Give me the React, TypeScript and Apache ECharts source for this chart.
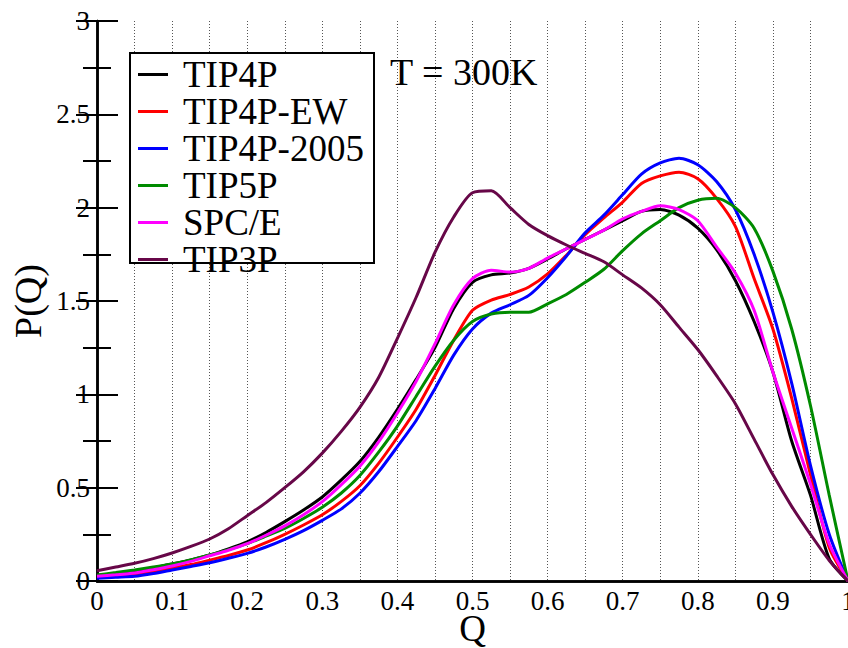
import React, { useEffect, useRef } from "react";
import * as echarts from "echarts";

const qValues = [
  0, 0.025, 0.05, 0.075, 0.1, 0.125, 0.15, 0.175, 0.2, 0.225, 0.25, 0.275, 0.3, 0.325, 0.35, 0.375, 0.4,
  0.425, 0.45, 0.475, 0.5, 0.525, 0.55, 0.575, 0.6, 0.625, 0.65, 0.675, 0.7, 0.725, 0.75, 0.775, 0.8,
  0.825, 0.85, 0.875, 0.9, 0.925, 0.95, 0.975, 1,
];

const tip4p = [
  0.03, 0.04, 0.052, 0.07, 0.091, 0.113, 0.139, 0.172, 0.21, 0.26, 0.318, 0.38, 0.45, 0.54, 0.64, 0.77, 0.92,
  1.08, 1.25, 1.46, 1.6, 1.64, 1.65, 1.675, 1.725, 1.78, 1.83, 1.88, 1.93, 1.98, 1.99, 1.96, 1.89,
  1.775, 1.61, 1.39, 1.12, 0.75, 0.46, 0.12, 0,
];

const tip4pEw = [
  0.02, 0.025, 0.035, 0.05, 0.068, 0.088, 0.112, 0.137, 0.166, 0.205, 0.25, 0.3, 0.355, 0.425, 0.51, 0.63, 0.77,
  0.92, 1.1, 1.29, 1.45, 1.505, 1.535, 1.575, 1.645, 1.745, 1.855, 1.945, 2.03, 2.13, 2.17, 2.19, 2.155,
  2.05, 1.9, 1.62, 1.35, 0.98, 0.57, 0.18, 0,
];

const tip4p2005 = [
  0.015, 0.02, 0.025, 0.04, 0.059, 0.078, 0.098, 0.122, 0.148, 0.182, 0.223, 0.27, 0.325, 0.385, 0.47, 0.585, 0.72,
  0.86, 1.03, 1.21, 1.35, 1.435, 1.48, 1.53, 1.625, 1.74, 1.865, 1.96, 2.07, 2.18, 2.24, 2.265, 2.23,
  2.14, 1.99, 1.75, 1.44, 1.06, 0.62, 0.25, 0,
];

const tip5p = [
  0.032, 0.045, 0.059, 0.075, 0.091, 0.113, 0.139, 0.168, 0.2, 0.24, 0.282, 0.335, 0.395, 0.47, 0.565, 0.69, 0.83,
  0.99, 1.15, 1.29, 1.39, 1.43, 1.44, 1.44, 1.485, 1.535, 1.6, 1.67, 1.77, 1.86, 1.93, 2.0, 2.04,
  2.05, 2.0, 1.89, 1.66, 1.35, 0.94, 0.46, 0,
];

const spce = [
  0.025, 0.033, 0.043, 0.06, 0.08, 0.105, 0.135, 0.165, 0.2, 0.245, 0.295, 0.355, 0.425, 0.515, 0.615, 0.745, 0.9,
  1.07, 1.27, 1.48, 1.62, 1.665, 1.655, 1.675, 1.73, 1.78, 1.83, 1.88, 1.94, 1.98, 2.01, 1.99, 1.93,
  1.79, 1.65, 1.45, 1.12, 0.82, 0.52, 0.2, 0,
];

const tip3p = [
  0.055, 0.075, 0.095, 0.12, 0.15, 0.185, 0.225, 0.28, 0.35, 0.42, 0.5, 0.585, 0.685, 0.8, 0.93, 1.09, 1.3,
  1.52, 1.76, 1.95, 2.08, 2.09, 2.0, 1.91, 1.85, 1.8, 1.755, 1.71, 1.64, 1.57, 1.48, 1.36, 1.24,
  1.1, 0.95, 0.76, 0.57, 0.4, 0.25, 0.11, 0,
];

const seriesNames = ["TIP4P", "TIP4P-EW", "TIP4P-2005", "TIP5P", "SPC/E", "TIP3P"];
const seriesValues = [tip4p, tip4pEw, tip4p2005, tip5p, spce, tip3p];
const seriesColors = ["#000000", "#ff0000", "#0000ff", "#008b00", "#ff00ff", "#670748"];

const FONT = "Liberation Serif, Times New Roman, serif";

export default function App() {
  const ref = useRef<HTMLDivElement>(null);

  useEffect(() => {
    if (!ref.current) return;
    const chart = echarts.init(ref.current, undefined, { renderer: "svg" });

    const series = seriesNames.map((name, i) => ({
      name,
      type: "line",
      data: qValues.map((q, j) => [q, seriesValues[i][j]]),
      showSymbol: false,
      symbol: "none",
      smooth: 0.25,
      color: seriesColors[i],
      itemStyle: { color: seriesColors[i] },
      lineStyle: { color: seriesColors[i], width: 3 },
      xAxisIndex: 0,
      yAxisIndex: 0,
      z: 2 + i * 0.01,
    }));

    const option: any = {
      animation: false,
      backgroundColor: "#ffffff",
      textStyle: { fontFamily: FONT },
      grid: {
        left: 97,
        right: 0,
        top: 21,
        bottom: 67,
        containLabel: false,
        outerBoundsMode: "none",
      },
      xAxis: [
        {
          type: "value",
          min: 0,
          max: 1,
          interval: 0.1,
          position: "bottom",
          name: "Q",
          nameLocation: "middle",
          nameGap: 29,
          nameMoveOverlap: false,
          nameTextStyle: { fontFamily: FONT, fontSize: 37, color: "#000" },
          axisLine: { show: true, lineStyle: { color: "#000", width: 2.5 } },
          axisTick: { show: false },
          minorTick: { show: false, splitNumber: 2 },
          axisLabel: { fontFamily: FONT, fontSize: 27, color: "#000", margin: 6 },
          splitLine: { show: true, lineStyle: { color: "#555", type: [1, 2], width: 1 } },
          minorSplitLine: { show: true, lineStyle: { color: "#555", type: [1, 2], width: 1 } },
        },
        {
          type: "value",
          min: 0,
          max: 1,
          interval: 0.1,
          position: "top",
          axisLine: { show: true, lineStyle: { color: "#000", width: 2.5 } },
          axisTick: { show: false },
          axisLabel: { show: false },
          splitLine: { show: false },
        },
      ],
      yAxis: [
        {
          type: "value",
          min: 0,
          max: 3,
          interval: 0.5,
          position: "left",
          name: "P(Q)",
          nameLocation: "middle",
          nameGap: 50,
          nameMoveOverlap: false,
          nameTextStyle: { fontFamily: FONT, fontSize: 38, color: "#000" },
          axisLine: { show: true, lineStyle: { color: "#000", width: 2.5 } },
          axisTick: { show: true, inside: true, length: 21, lineStyle: { color: "#000", width: 2 } },
          minorTick: { show: true, splitNumber: 2, length: 14, lineStyle: { color: "#000", width: 2 } },
          axisLabel: { fontFamily: FONT, fontSize: 27, color: "#000", margin: 7 },
          splitLine: { show: false },
        },
        {
          type: "value",
          min: 0,
          max: 3,
          interval: 0.5,
          position: "right",
          axisLine: { show: true, lineStyle: { color: "#000", width: 2.5 } },
          axisTick: { show: true, inside: true, length: 21, lineStyle: { color: "#000", width: 2 } },
          minorTick: { show: true, splitNumber: 2, length: 14, lineStyle: { color: "#000", width: 2 } },
          axisLabel: { show: false },
          splitLine: { show: false },
        },
      ],
      legend: {
        orient: "vertical",
        left: 138,
        top: 56,
        padding: 0,
        itemGap: 0,
        itemWidth: 30,
        itemHeight: 3,
        icon: "rect",
        selectedMode: false,
        data: seriesNames,
        textStyle: {
          fontFamily: FONT,
          fontSize: 37,
          color: "#000",
          lineHeight: 34.3,
          padding: [0, 0, 0, 10],
        },
        z: 5,
      },
      graphic: [
        {
          type: "rect",
          z: 4,
          shape: { x: 130, y: 53, width: 244, height: 210 },
          style: { fill: "#ffffff", stroke: "#000000", lineWidth: 2 },
        },
        {
          type: "text",
          z: 4,
          x: 390,
          y: 72,
          style: {
            text: "T = 300K",
            fontFamily: FONT,
            fontSize: 38,
            fill: "#000",
            verticalAlign: "middle",
            align: "left",
          },
        },
      ],
      series,
    };

    chart.setOption(option);
    return () => chart.dispose();
  }, []);

  return (
    <div
      ref={ref}
      style={{ position: "absolute", left: 0, top: 0, width: 848, height: 648 }}
    />
  );
}
